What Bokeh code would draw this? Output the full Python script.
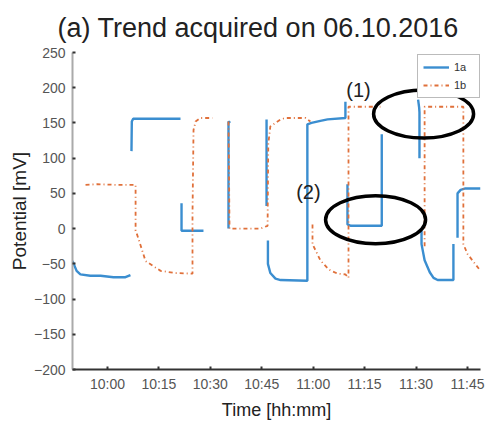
import numpy as np
from bokeh.plotting import figure
from bokeh.models import Legend, LegendItem, Label, FixedTicker, Range1d
from bokeh.core.properties import value
from bokeh.embed import file_html
from bokeh.resources import INLINE

nan = float("nan")

# time in minutes after 10:00, potential in mV (NaN = gap in recorded data)
t_1a = [-10.2, -9.0, -7.9, -5.0, -2.0, 1.75, 5.25, 6.7, nan,
        7.0, 7.1, 7.5, 21.3, nan,
        21.6, 21.6, 28.0, nan,
        35.3, 35.3, 35.8, nan,
        46.4, 46.4, nan,
        46.8, 46.8, 47.5, 49.0, 50.5, 58.3, 58.3, 59.5, 62.1, 64.2, 69.4, 69.4, nan,
        70.0, 70.0, 71.0, 80.0, 80.0, nan,
        90.6, 90.9, 91.0, 91.0, nan,
        91.6, 91.6, 92.5, 94.0, 95.1, 96.3, 100.9, 100.9, nan,
        102.1, 102.1, 103.0, 104.4, 108.8]
v_1a = [-46, -60, -65, -67, -67, -69, -69, -66, nan,
        110, 152, 156, 156, nan,
        36, -3, -3, nan,
        0, 152, 150, nan,
        155, 32, nan,
        -17, -50, -63, -71, -73, -74, 148, 150, 153, 155, 157, 180, nan,
        63, 6, 4, 4, 134, nan,
        183, 172, 165, 100, nan,
        -3, -22, -45, -62, -70, -73, -73, -22, nan,
        -13, 50, 55, 57, 57]

t_1b = [-6.4, -3.0, 3.0, 8.2, 8.2, 8.75, 11.1, 15.5, 19.8, 24.8, 24.8, 25.1, 25.7, 27.1, 30.6, nan,
        35.3, 35.6, 36.5, 44.6, 46.7, 46.9, 47.5, 50.5, 51.9, 57.75, 59.2, nan,
        59.8, 59.8, 62.1, 64.5, 67.1, 69.4, 70.3, 70.3, 70.9, 79.6, nan,
        92.5, 92.5, 103.8, 103.8, 105.0, 108.8]
v_1b = [62, 63, 62, 62, -3, -10, -46, -60, -63, -64, 20, 140, 152, 157, 157, nan,
        152, 0, 0, 0, 4, 120, 145, 155, 157, 157, 152, nan,
        6, -22, -45, -58, -64, -65, -70, 173, 173, 173, nan,
        -25, 173, 173, -22, -36, -60]

x_ticks = [0, 15, 30, 45, 60, 75, 90, 105]
x_labels = ["10:00", "10:15", "10:30", "10:45", "11:00", "11:15", "11:30", "11:45"]
y_ticks = [-200, -150, -100, -50, 0, 50, 100, 150, 200, 250]

# annotation anchors (minutes, mV)
mark_1 = (92.2, 162.7)
mark_2 = (78.2, 12.7)
text_1 = (73.2, 196.7)
text_2 = (58.6, 52.4)

TITLE = "(a) Trend acquired on 06.10.2016"
FONT = "Liberation Sans"
BLUE = "#3b8ed0"
ORANGE = "#e0703a"

p = figure(width=485, height=423, output_backend="svg", toolbar_location=None,
           x_range=Range1d(-10.2, 108.8), y_range=Range1d(-200, 250),
           min_border_left=72, min_border_right=5, min_border_bottom=54, min_border_top=51)

p.title.text = TITLE
p.title.text_font = FONT
p.title.text_font_size = "27px"
p.title.text_font_style = "normal"
p.title.text_color = "#222222"
p.title.align = "left"
p.title.offset = -15
p.title.standoff = 20

p.outline_line_color = None
p.grid.visible = False
p.background_fill_color = "white"
p.border_fill_color = "white"

r1 = p.line(t_1a, v_1a, line_color=BLUE, line_width=2.4)
r2 = p.line(t_1b, v_1b, line_color=ORANGE, line_width=1.8, line_dash="4 3 1 3")

p.ellipse(x=[mark_1[0], mark_2[0]], y=[mark_1[1], mark_2[1]], width=100, height=48,
          width_units="screen", height_units="screen",
          fill_color=None, line_color="black", line_width=3.5)

for (tx, ty), s in [(text_1, "(1)"), (text_2, "(2)")]:
    p.add_layout(Label(x=tx, y=ty, text=s, text_font=FONT, text_font_size="20px",
                       text_align="center", text_baseline="middle", text_color="#222222"))

xa = p.xaxis[0]
xa.ticker = FixedTicker(ticks=x_ticks)
xa.major_label_overrides = {t: l for t, l in zip(x_ticks, x_labels)}
xa.axis_label = "Time [hh:mm]"
xa.axis_line_color = "#333333"
xa.axis_line_width = 2
xa.major_label_standoff = 6
xa.axis_label_standoff = 5

ya = p.yaxis[0]
ya.ticker = FixedTicker(ticks=y_ticks)
ya.axis_label = "Potential [mV]"
ya.axis_line_color = "#aaaaaa"
ya.axis_line_width = 2
ya.major_label_standoff = 7
ya.axis_label_standoff = 1

for ax in (xa, ya):
    ax.major_label_text_font = FONT
    ax.major_label_text_font_size = "14px"
    ax.major_label_text_color = "#555555"
    ax.axis_label_text_font = FONT
    ax.axis_label_text_font_style = "normal"
    ax.axis_label_text_color = "#222222"
    ax.major_tick_in = 3
    ax.major_tick_out = 0
    ax.major_tick_line_color = "#333333"
    ax.major_tick_line_width = 2
    ax.minor_tick_line_color = None
xa.axis_label_text_font_size = "18px"
ya.axis_label_text_font_size = "19px"

legend = Legend(items=[LegendItem(label="1a", renderers=[r1]), LegendItem(label="1b", renderers=[r2])],
                location=(345, 271), label_text_font=FONT, label_text_font_size="11px",
                label_text_color="#333333", glyph_width=26, glyph_height=14, label_height=14,
                padding=5, spacing=4, margin=0, border_line_color="#777777", border_line_width=1.5,
                background_fill_alpha=1)
p.add_layout(legend, "center")

open("out.html", "w").write(file_html(p, INLINE))
